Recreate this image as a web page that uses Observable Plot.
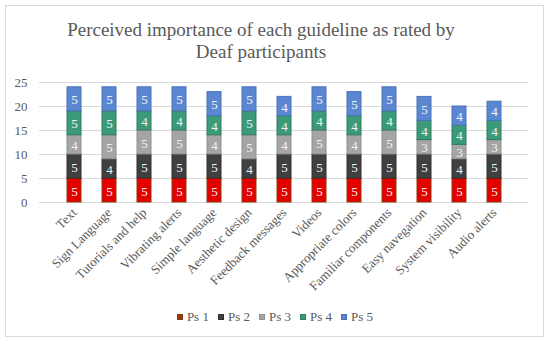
<!DOCTYPE html>
<html>
<head>
<meta charset="utf-8">
<script src="https://cdn.jsdelivr.net/npm/d3@7"></script>
<script src="https://cdn.jsdelivr.net/npm/@observablehq/plot@0.6"></script>
<style>
  html, body { margin: 0; padding: 0; background: #fff; }
  #wrap { position: relative; width: 550px; height: 343px; overflow: hidden; font-family: 'Liberation Serif'; }
  #frame { position: absolute; left: 5px; top: 5px; width: 539px; height: 332px; border: 1px solid #d9d9d9; box-sizing: border-box; }
  #title { position: absolute; left: 0; top: 19px; width: 522px; text-align: center; font-size: 19px; line-height: 22px; color: #595959; }
  #chart { position: absolute; left: 0; top: 70px; }
  #legend { position: absolute; left: 0; top: 309px; width: 550px; display: flex; justify-content: center; gap: 9px; font-size: 13px; color: #595959; }
  .item { display: flex; align-items: center; }
  .sw { width: 6px; height: 6px; margin-right: 4px; box-sizing: border-box; }
</style>
</head>
<body>
<div id="wrap">
  <div id="frame"></div>
  <div id="title">Perceived importance of each guideline as rated by<br>Deaf participants</div>
  <div id="chart"></div>
  <div id="legend"></div>
</div>
<script>
const categories = ["Text", "Sign Language", "Tutorials and help", "Vibrating alerts", "Simple language", "Aesthetic design", "Feedback messages", "Videos", "Appropriate colors", "Familiar components", "Easy navegation", "System visibility", "Audio alerts"];
const seriesNames = ["Ps 1", "Ps 2", "Ps 3", "Ps 4", "Ps 5"];
const ps1 = [5, 5, 5, 5, 5, 5, 5, 5, 5, 5, 5, 5, 5];
const ps2 = [5, 4, 5, 5, 5, 4, 5, 5, 5, 5, 5, 4, 5];
const ps3 = [4, 5, 5, 5, 4, 5, 4, 5, 4, 5, 3, 3, 3];
const ps4 = [5, 5, 4, 4, 4, 5, 4, 4, 4, 4, 4, 4, 4];
const ps5 = [5, 5, 5, 5, 5, 5, 4, 5, 5, 5, 5, 4, 4];
const yTicks = [0, 5, 10, 15, 20, 25];
const fills = ["#e50000", "#404040", "#a5a5a5", "#3b9a78", "#5b87d2"];
const strokes = ["#8b3a10", "#2e2e2e", "#8f8f8f", "#2f7d60", "#4a72b8"];

const seriesValues = [ps1, ps2, ps3, ps4, ps5];
const data = [];
seriesNames.forEach((s, si) => {
  categories.forEach((c, ci) => data.push({category: c, series: s, value: seriesValues[si][ci]}));
});

const plot = Plot.plot({
  width: 550,
  height: 240,
  marginTop: 12,
  marginBottom: 108,
  marginLeft: 39,
  marginRight: 22,
  style: "font-family:'Liberation Serif';font-size:13px;color:#595959;background:transparent;overflow:visible",
  x: {domain: categories, label: null, padding: 0.6, tickRotate: -45, tickSize: 0, tickPadding: 8},
  y: {domain: [0, 25], ticks: yTicks, label: null, tickSize: 0, tickPadding: 12},
  color: {domain: seriesNames, range: fills},
  marks: [
    Plot.ruleY(yTicks, {stroke: "#d9d9d9", strokeWidth: 1}),
    Plot.barY(data, Plot.stackY({x: "category", y: "value", z: "series", order: seriesNames, fill: "series",
      stroke: d => strokes[seriesNames.indexOf(d.series)], strokeWidth: 1, inset: 0})),
    Plot.text(data, Plot.stackY({x: "category", y: "value", z: "series", order: seriesNames, text: "value",
      fill: "#f4f4f4", fontSize: 13, dy: 1}))
  ]
});
document.getElementById("chart").appendChild(plot);

const legend = document.getElementById("legend");
seriesNames.forEach((s, i) => {
  const it = document.createElement("div");
  it.className = "item";
  const sw = document.createElement("span");
  sw.className = "sw";
  sw.style.background = i === 0 ? "#9a3a0c" : fills[i];
  sw.style.border = "1px solid " + strokes[i];
  it.appendChild(sw);
  it.appendChild(document.createTextNode(s));
  legend.appendChild(it);
});
</script>
</body>
</html>
